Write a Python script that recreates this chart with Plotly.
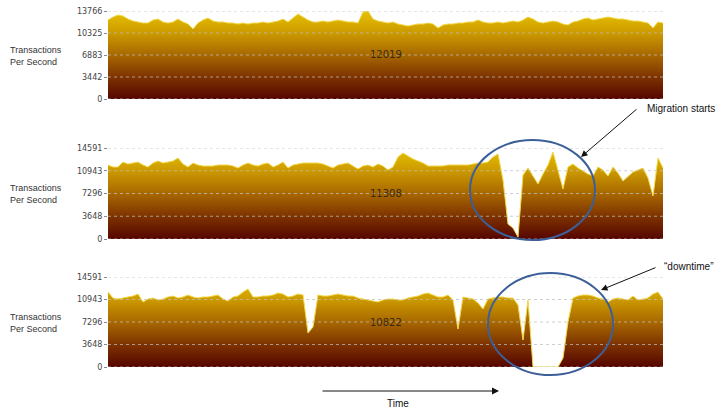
import plotly.graph_objects as go

# ---------------- data ----------------
samples = list(range(112))  # time index (seconds)

tps_before = [
    12356, 12825, 13138, 12981, 12512, 12199, 12043, 11886, 11880, 12356,
    12512, 12043, 11886, 12043, 12512, 12043, 11730, 10948, 11886, 12356,
    12668, 12199, 12043, 12050, 11886, 11890, 11730, 11886, 11730, 11886,
    11880, 12043, 11886, 12043, 12199, 12512, 12043, 12668, 13294, 12825,
    12356, 12043, 12040, 12199, 12043, 12199, 12356, 12199, 12043, 12050,
    11886, 13600, 13766, 12512, 12199, 12043, 11886, 12043, 11730, 11574,
    11417, 11574, 11730, 11730, 11886, 11730, 11104, 11574, 11730, 11730,
    11886, 11880, 12043, 12043, 12356, 12043, 11886, 11890, 12043, 11886,
    12043, 12199, 12043, 12356, 12825, 12512, 12043, 11886, 12043, 12199,
    12043, 11730, 11574, 12043, 12199, 12512, 12668, 12356, 12512, 12668,
    12825, 12668, 12512, 12510, 12356, 12199, 12190, 12043, 11886, 11104,
    12043, 11886,
]

tps_migration = [
    11862, 11542, 11542, 12343, 12023, 12183, 12343, 11862, 11542, 12183,
    12503, 12183, 12343, 12503, 12984, 12023, 11542, 12183, 11862, 11702,
    11702, 11702, 11862, 11862, 11862, 11702, 11381, 11862, 12183, 11862,
    11702, 12023, 12183, 11542, 11862, 12343, 11381, 11862, 12023, 12183,
    12183, 12183, 12183, 12023, 11702, 11381, 11862, 12023, 12183, 11702,
    11221, 11702, 11862, 11542, 12023, 11702, 11061, 11542, 13145, 13786,
    13305, 12824, 12503, 12183, 11702, 11702, 11702, 11702, 11862, 11862,
    11862, 11862, 11862, 12023, 12183, 12183, 12343, 13145, 13626, 9458,
    2405, 1763, 321, 10259, 11381, 10099, 8817, 10420, 11862, 13946,
    11061, 8015, 11542, 12023, 11381, 10900, 10420, 10099, 11542, 11061,
    10099, 11542, 10580, 9297, 10099, 10740, 11061, 11381, 9778, 6893,
    12984, 11381,
]

tps_downtime = [
    12158, 11185, 11023, 11185, 11347, 11509, 11833, 10537, 11023, 11185,
    10861, 11023, 11347, 11509, 11185, 11347, 11671, 11347, 11185, 11347,
    11347, 11509, 11671, 11023, 10699, 11347, 11509, 12158, 12644, 11347,
    11347, 11509, 11509, 11671, 11995, 11833, 11347, 11509, 11833, 11671,
    5511, 6484, 11671, 11509, 11509, 11671, 11833, 11671, 11509, 11509,
    11185, 11023, 10861, 10699, 10537, 10861, 11023, 11023, 10861, 10861,
    11185, 11347, 11509, 11833, 11995, 11671, 11347, 11347, 11671, 10861,
    6160, 11347, 11185, 11023, 10374, 9402, 11023, 11185, 11347, 11347,
    11185, 11185, 10050, 4377, 10861, 0, 0, 0, 0, 0,
    0, 1459, 7295, 11185, 11509, 11671, 11671, 11509, 11185, 11023,
    10537, 11023, 11185, 11023, 10861, 11509, 10861, 11023, 11185, 11833,
    12158, 11023,
]

series = [tps_before, tps_migration, tps_downtime]
mean_labels = ["12019", "11308", "10822"]
axis_max = [13766, 14591, 14591]
tick_vals = [
    [0, 3442, 6883, 10325, 13766],
    [0, 3648, 7296, 10943, 14591],
    [0, 3648, 7296, 10943, 14591],
]
y_title = "Transactions<br>Per Second"
callouts = ["Migration starts", "\u201cdowntime\u201d"]
x_label = "Time"

# ---------------- layout helpers ----------------
W, H = 721, 409
def px(x):
    return x / W
def py(y):
    return 1 - y / H

x_dom = [px(108), px(665)]
y_doms = [[py(99), py(11)], [py(239), py(148)], [py(367), py(277)]]
label_y = [56, 194, 323]

colorscale = [
    [0.0, "#560500"],
    [0.25, "#7e3300"],
    [0.5, "#a86800"],
    [0.75, "#cc9a00"],
    [1.0, "#e6c200"],
]

fig = go.Figure()
shapes = []
annotations = []

for k in range(3):
    xa = "x" if k == 0 else f"x{k+1}"
    ya = "y" if k == 0 else f"y{k+1}"
    fig.add_trace(go.Scatter(
        x=samples, y=series[k], mode="lines", fill="tozeroy",
        line=dict(color="#f2d84a", width=1, shape="linear"),
        fillgradient=dict(type="vertical", colorscale=colorscale,
                          start=0, stop=axis_max[k]),
        xaxis=xa, yaxis=ya, hoverinfo="skip", showlegend=False,
    ))
    fig.update_layout(**{
        ("xaxis" if k == 0 else f"xaxis{k+1}"): dict(
            domain=x_dom, range=[0, 111.4], showgrid=False, zeroline=False,
            showticklabels=False, ticks="", showline=False, automargin=False,
            anchor=ya, fixedrange=True),
        ("yaxis" if k == 0 else f"yaxis{k+1}"): dict(
            domain=y_doms[k], range=[0, axis_max[k]], tickvals=tick_vals[k],
            ticktext=[str(v) for v in tick_vals[k]], showgrid=False,
            zeroline=False, ticks="outside", ticklen=3, tickcolor="#888",
            tickfont=dict(family="DejaVu Sans", size=8, color="#444"),
            showline=False, automargin=False, anchor=xa, fixedrange=True),
    })
    # dotted grid drawn over the fill
    for v in tick_vals[k]:
        shapes.append(dict(type="line", xref=f"{xa} domain", yref=ya,
                           x0=0, x1=1, y0=v, y1=v, layer="above",
                           line=dict(color="rgba(190,190,190,0.75)", width=1, dash="dot")))
    annotations.append(dict(text=y_title, xref="paper", yref="paper",
                            x=px(8), y=py(label_y[k]), xanchor="left", yanchor="middle",
                            align="left", showarrow=False,
                            font=dict(family="Liberation Sans", size=9, color="#333")))
    annotations.append(dict(text=mean_labels[k], xref=xa, yref=f"{ya} domain",
                            x=55.6, y=0.5, showarrow=False,
                            font=dict(family="DejaVu Sans", size=10, color="#3a2a10")))

# ellipses
ell_color = "#3d5f98"
shapes.append(dict(type="circle", xref="paper", yref="paper",
                   x0=px(470), x1=px(595), y0=py(240), y1=py(140),
                   line=dict(color=ell_color, width=2), layer="above"))
shapes.append(dict(type="circle", xref="paper", yref="paper",
                   x0=px(488), x1=px(613), y0=py(375), y1=py(273),
                   line=dict(color=ell_color, width=2), layer="above"))

# callout texts and arrows
annotations.append(dict(text=callouts[0], xref="paper", yref="paper",
                        x=px(645), y=py(109), xanchor="left", yanchor="middle",
                        showarrow=False, font=dict(family="Liberation Sans", size=10, color="#111")))
annotations.append(dict(text="", xref="paper", yref="paper", x=px(581), y=py(157),
                        ax=57, ay=-49, showarrow=True, arrowhead=2, arrowsize=1.3,
                        arrowwidth=1, arrowcolor="#111"))
annotations.append(dict(text=callouts[1], xref="paper", yref="paper",
                        x=px(662), y=py(266), xanchor="left", yanchor="middle",
                        showarrow=False, font=dict(family="Liberation Sans", size=10, color="#111")))
annotations.append(dict(text="", xref="paper", yref="paper", x=px(601), y=py(290),
                        ax=56, ay=-23, showarrow=True, arrowhead=2, arrowsize=1.3,
                        arrowwidth=1, arrowcolor="#111"))
annotations.append(dict(text="", xref="paper", yref="paper", x=px(499), y=py(391),
                        ax=-178, ay=0, showarrow=True, arrowhead=2, arrowsize=1.4,
                        arrowwidth=1, arrowcolor="#111"))
annotations.append(dict(text=x_label, xref="paper", yref="paper",
                        x=px(398), y=py(403), xanchor="center", yanchor="middle",
                        showarrow=False, font=dict(family="Liberation Sans", size=10, color="#111")))

fig.update_layout(
    width=W, height=H, margin=dict(l=0, r=0, t=0, b=0),
    paper_bgcolor="white", plot_bgcolor="white", template="none",
    shapes=shapes, annotations=annotations, showlegend=False,
)

fig.write_html("out.html", config={"displayModeBar": False})
